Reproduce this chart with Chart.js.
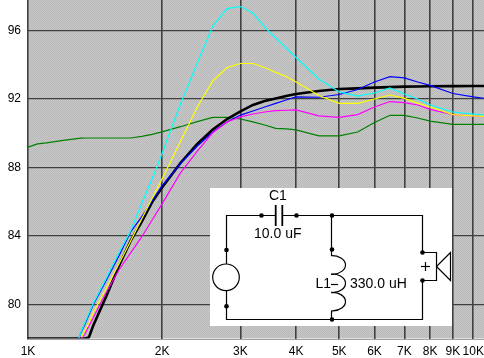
<!DOCTYPE html>
<html lang="en">
<head>
<meta charset="UTF-8" />
<title>Response</title>
<script src="https://cdn.jsdelivr.net/npm/chart.js"></script>
<style>
  html, body { margin: 0; padding: 0; background: #fff; }
  #wrap { width: 484px; height: 358px; }
</style>
</head>
<body>
<div id="wrap"><canvas id="chart" width="484" height="358"></canvas></div>
<script>
const freqs = [1000,1050,1100,1200,1300,1320,1340,1370,1400,1500,1600,1700,1800,1900,2000,2200,2400,2600,2800,3000,3200,3400,3600,3800,4000,4500,5000,5500,6000,6500,7000,7500,8000,9000,10000,10570];
const green = [89.17,89.37,89.42,89.57,89.69,89.70,89.71,89.71,89.71,89.71,89.71,89.71,89.80,89.92,90.07,90.37,90.67,90.91,90.92,90.82,90.65,90.47,90.27,90.24,90.18,89.83,89.83,90.06,90.62,91.04,91.03,90.88,90.70,90.51,90.51,90.51];
const cyan = [null,null,null,null,78,78.47,78.87,79.46,80.02,81.54,83.00,84.28,85.89,87.32,88.81,91.70,94.09,96.25,97.27,97.39,97.01,96.19,95.55,94.97,94.41,93.16,92.40,92.16,92.34,92.63,92.28,91.99,91.64,91.23,91.11,91.05];
const blue = [null,null,null,null,78,78.44,78.79,79.38,79.96,81.42,82.82,84.22,85.10,86.03,86.91,88.22,89.24,90.06,90.65,91.05,91.29,91.52,91.73,91.93,92.11,92.09,92.25,92.54,92.98,93.29,93.22,92.98,92.78,92.31,92.11,92.03];
const magenta = [null,null,null,null,null,78,78.24,78.73,79.20,80.72,82.00,83.00,83.93,84.92,85.86,87.67,88.95,90.03,90.65,90.94,91.11,91.23,91.31,91.33,91.35,91.00,90.91,91.08,91.52,91.84,91.78,91.64,91.38,91.08,91.00,90.96];
const yellow = [null,null,null,null,null,78.09,78.44,78.91,79.49,80.95,82.35,83.70,84.98,86.18,87.32,89.51,91.52,93.04,93.83,94.06,94.06,93.83,93.54,93.30,92.98,92.19,91.73,91.73,91.99,92.22,92.02,91.75,91.52,91.08,91.00,90.97];
const black = [78,78,78,78,78,78,78,78.06,78.73,80.49,82.24,83.70,84.81,85.97,86.82,88.25,89.36,90.21,90.82,91.26,91.64,91.87,92.02,92.16,92.28,92.46,92.57,92.61,92.65,92.68,92.71,92.72,92.73,92.74,92.75,92.75];

const xTicks = [1000,2000,3000,4000,5000,6000,7000,8000,9000,10000];
const xLabels = ["1K","2K","3K","4K","5K","6K","7K","8K","9K","10K"];
const yTicks = [80,84,88,92,96];

function series(values, color, width) {
  return {
    data: freqs.map((f, i) => ({ x: f, y: values[i] })),
    borderColor: color,
    borderWidth: width,
    pointRadius: 0,
    tension: 0,
    fill: false,
  };
}

// hatched grey behind the plot
const plotBack = {
  id: "plotBack",
  beforeDraw(chart) {
    const a = chart.chartArea;
    const ctx = chart.ctx;
    const tile = document.createElement("canvas");
    tile.width = 2;
    tile.height = 2;
    const t = tile.getContext("2d");
    t.fillStyle = "#c8c8c8";
    t.fillRect(0, 0, 2, 2);
    t.fillStyle = "#b8b8b8";
    t.fillRect(0, 0, 1, 1);
    t.fillRect(1, 1, 1, 1);
    ctx.save();
    ctx.fillStyle = ctx.createPattern(tile, "repeat");
    ctx.fillRect(a.left, a.top, a.right - a.left, a.bottom - a.top);
    ctx.restore();
  },
  afterDraw(chart) {
    const a = chart.chartArea;
    const ctx = chart.ctx;
    ctx.save();
    ctx.strokeStyle = "#404040";
    ctx.lineWidth = 1;
    ctx.beginPath();
    ctx.moveTo(a.left - 0.5, 0);
    ctx.lineTo(a.left - 0.5, a.bottom + 0.5);
    ctx.stroke();
    ctx.strokeStyle = "#a0a0a0";
    ctx.beginPath();
    ctx.moveTo(a.left - 1, a.bottom + 1);
    ctx.lineTo(484, a.bottom + 1);
    ctx.stroke();
    ctx.restore();
    drawCircuit(ctx);
  },
};

function line(ctx, pts) {
  ctx.beginPath();
  ctx.moveTo(pts[0][0], pts[0][1]);
  for (let i = 1; i < pts.length; i++) ctx.lineTo(pts[i][0], pts[i][1]);
  ctx.stroke();
}

function dot(ctx, x, y) {
  ctx.beginPath();
  ctx.arc(x, y, 2.3, 0, Math.PI * 2);
  ctx.fill();
}

// the schematic panel sits on top of the plot
function drawCircuit(ctx) {
  ctx.save();
  ctx.fillStyle = "#fff";
  ctx.fillRect(210, 188, 242, 138);
  ctx.strokeStyle = "#000";
  ctx.fillStyle = "#000";
  ctx.lineWidth = 1.2;

  line(ctx, [[226.5, 264], [226.5, 215.5], [275.5, 215.5]]);
  line(ctx, [[282.5, 215.5], [422.5, 215.5], [422.5, 252]]);
  line(ctx, [[331.5, 215.5], [331.5, 256]]);
  line(ctx, [[226.5, 290.5], [226.5, 319.5], [422.5, 319.5], [422.5, 280]]);
  line(ctx, [[331.5, 311], [331.5, 319.5]]);

  // capacitor plates
  ctx.lineWidth = 1.8;
  line(ctx, [[275.7, 205], [275.7, 226]]);
  line(ctx, [[282.3, 205], [282.3, 226]]);
  ctx.lineWidth = 1.2;

  ctx.beginPath();
  ctx.arc(226, 277.3, 13.3, 0, Math.PI * 2);
  ctx.stroke();

  // inductor loops
  for (let i = 0; i < 3; i++) {
    ctx.beginPath();
    ctx.ellipse(332, 265 + i * 18.3, 13.5, 9.3, 0, -Math.PI * 0.52, Math.PI * 0.52);
    ctx.stroke();
  }
  line(ctx, [[331, 284.5], [338, 284.5]]);

  // speaker
  line(ctx, [[422.5, 252.5], [436.5, 252.5], [436.5, 280.5], [422.5, 280.5]]);
  line(ctx, [[436.5, 266.5], [450.5, 252.5], [450.5, 280.5], [436.5, 266.5]]);
  line(ctx, [[421, 266.5], [430, 266.5]]);
  line(ctx, [[425.5, 262], [425.5, 271]]);

  dot(ctx, 261.5, 215.5);
  dot(ctx, 296.5, 215.5);
  dot(ctx, 332, 215.5);
  dot(ctx, 226.5, 250);
  dot(ctx, 226.5, 306.3);
  dot(ctx, 332, 249.5);
  dot(ctx, 332, 319.5);
  dot(ctx, 422.5, 252.5);
  dot(ctx, 422.5, 280.5);

  ctx.font = "14px 'Liberation Sans'";
  ctx.textBaseline = "middle";
  ctx.textAlign = "left";
  ctx.fillText("C1", 269, 196.5);
  ctx.fillText("10.0 uF", 254, 234.5);
  ctx.fillText("L1", 315.5, 284.5);
  ctx.fillText("330.0 uH", 350, 284.5);
  ctx.restore();
}

const tickFont = { family: "'Liberation Sans'", size: 12 };

new Chart(document.getElementById("chart"), {
  type: "line",
  data: {
    datasets: [
      series(yellow, "#ffff00", 1.2),
      series(magenta, "#ff00ff", 1.2),
      series(cyan, "#00ffff", 1.2),
      series(blue, "#0000ff", 1.2),
      series(black, "#000000", 2.6),
      series(green, "#008000", 1.2),
    ],
  },
  options: {
    responsive: false,
    animation: false,
    layout: { padding: 0 },
    plugins: { legend: { display: false }, tooltip: { enabled: false } },
    scales: {
      x: {
        type: "logarithmic",
        min: 1000,
        max: 10570,
        afterBuildTicks(axis) {
          axis.ticks = xTicks.map((v) => ({ value: v, major: true }));
        },
        afterFit(axis) {
          axis.height = 19.5;
          axis.paddingLeft = 0;
          axis.paddingRight = 0;
        },
        border: { display: false },
        grid: { color: "#404040", lineWidth: 1.6, drawTicks: false },
        ticks: {
          autoSkip: false,
          maxRotation: 0,
          padding: 6,
          color: "#000",
          font: tickFont,
          callback: (v) => xLabels[xTicks.indexOf(v)],
        },
      },
      y: {
        min: 78,
        max: 97.77,
        afterBuildTicks(axis) {
          axis.ticks = yTicks.map((v) => ({ value: v }));
        },
        afterFit(axis) {
          axis.width = 28;
          axis.paddingTop = 0;
          axis.paddingBottom = 0;
        },
        border: { display: false },
        grid: { color: "#404040", lineWidth: 1.2, drawTicks: false },
        ticks: {
          padding: 7,
          color: "#000",
          font: tickFont,
          callback: (v) => String(v),
        },
      },
    },
  },
  plugins: [plotBack],
});
</script>
</body>
</html>
